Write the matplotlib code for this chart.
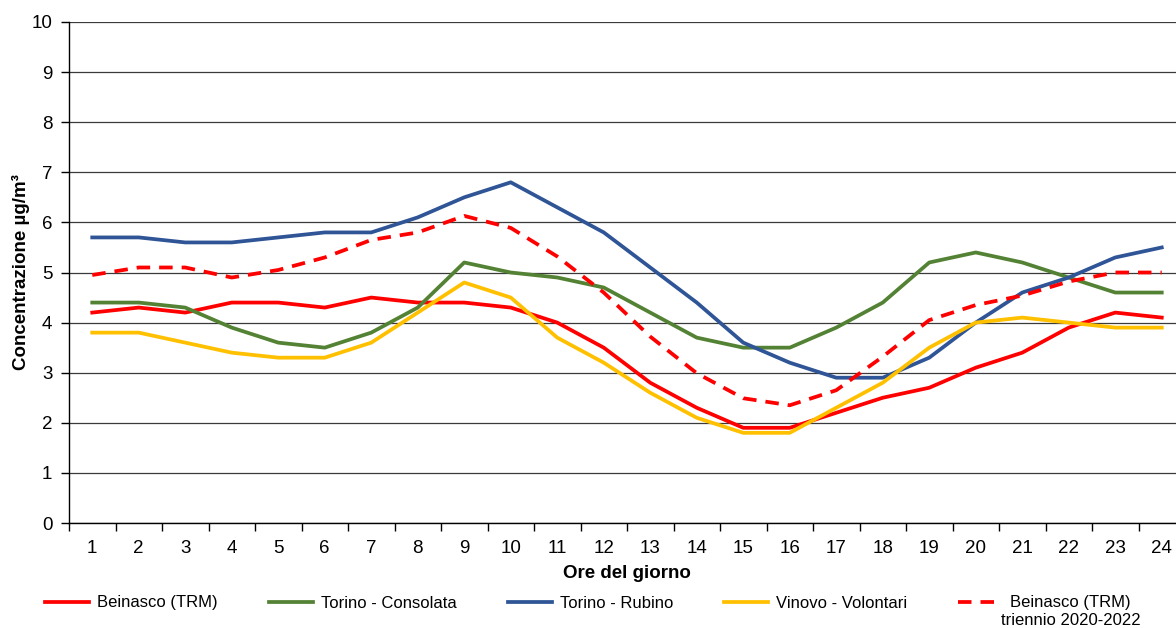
import matplotlib
matplotlib.use('Agg')
import matplotlib.pyplot as plt
import numpy as np

plt.rcParams['font.family'] = ['Liberation Sans', 'DejaVu Sans']

hours = list(range(1, 25))
beinasco = [4.2, 4.3, 4.2, 4.4, 4.4, 4.3, 4.5, 4.4, 4.4, 4.3, 4.0, 3.5,
            2.8, 2.3, 1.9, 1.9, 2.2, 2.5, 2.7, 3.1, 3.4, 3.9, 4.2, 4.1]
consolata = [4.4, 4.4, 4.3, 3.9, 3.6, 3.5, 3.8, 4.3, 5.2, 5.0, 4.9, 4.7,
             4.2, 3.7, 3.5, 3.5, 3.9, 4.4, 5.2, 5.4, 5.2, 4.9, 4.6, 4.6]
rubino = [5.7, 5.7, 5.6, 5.6, 5.7, 5.8, 5.8, 6.1, 6.5, 6.8, 6.3, 5.8,
          5.1, 4.4, 3.6, 3.2, 2.9, 2.9, 3.3, 4.0, 4.6, 4.9, 5.3, 5.5]
vinovo = [3.8, 3.8, 3.6, 3.4, 3.3, 3.3, 3.6, 4.2, 4.8, 4.5, 3.7, 3.2,
          2.6, 2.1, 1.8, 1.8, 2.3, 2.8, 3.5, 4.0, 4.1, 4.0, 3.9, 3.9]
beinasco_triennio = [4.95, 5.1, 5.1, 4.9, 5.05, 5.3, 5.65, 5.8, 6.13, 5.89, 5.32, 4.6,
                     3.72, 2.99, 2.49, 2.35, 2.65, 3.32, 4.05, 4.35, 4.54, 4.82, 5.0, 5.0]

fig = plt.figure(figsize=(11.76, 6.28), dpi=100)
ax = fig.add_axes([69 / 1176, 105 / 628, 1116 / 1176, 501 / 628])

lw = 2.7
ax.plot(hours, beinasco, color='#FF0000', lw=lw, label='Beinasco (TRM)')
ax.plot(hours, consolata, color='#548235', lw=lw, label='Torino - Consolata')
ax.plot(hours, rubino, color='#2F5597', lw=lw, label='Torino - Rubino')
ax.plot(hours, vinovo, color='#FFC000', lw=lw, label='Vinovo - Volontari')
ax.plot(hours, beinasco_triennio, color='#FF0000', lw=lw, dashes=(3.6, 2.4),
        label='Beinasco (TRM)')

ax.set_xlim(0.5, 24.5)
ax.set_ylim(0, 10)
ax.set_yticks(range(0, 11))
ax.set_xticks(hours)
ax.set_xticks(np.arange(0.5, 25, 1), minor=True)
ax.tick_params(axis='x', which='major', length=0, pad=12, labelsize=13.5)
ax.tick_params(axis='x', which='minor', length=6, width=1, color='black', direction='out')
ax.tick_params(axis='y', length=6, width=1, pad=6, labelsize=13.5, direction='out')

ax.grid(axis='y', color='#3a3a3a', lw=0.9)
ax.set_axisbelow(True)
for s in ['top', 'right']:
    ax.spines[s].set_visible(False)
for s in ['left', 'bottom']:
    ax.spines[s].set_color('black')
    ax.spines[s].set_linewidth(1)

ax.set_xlabel('Ore del giorno', fontsize=13.5, fontweight='bold', labelpad=6)
ax.set_ylabel('Concentrazione µg/m³', fontsize=13.5, fontweight='bold', labelpad=1)

leg = fig.legend(loc='center', bbox_to_anchor=(0.5, (628 - 603) / 628),
                 ncol=5, frameon=False, fontsize=12, handlelength=2.65,
                 handletextpad=0.48, columnspacing=3.05)

# seconda riga dell'ultima voce, centrata sotto il testo
fig.canvas.draw()
last = leg.get_texts()[-1]
bb = last.get_window_extent().transformed(fig.transFigure.inverted())
fig.text((bb.x0 + bb.x1) / 2, bb.y0 - 0.004, 'triennio 2020-2022', ha='center', va='top',
         fontsize=12)

fig.savefig('out.png', dpi=100)
